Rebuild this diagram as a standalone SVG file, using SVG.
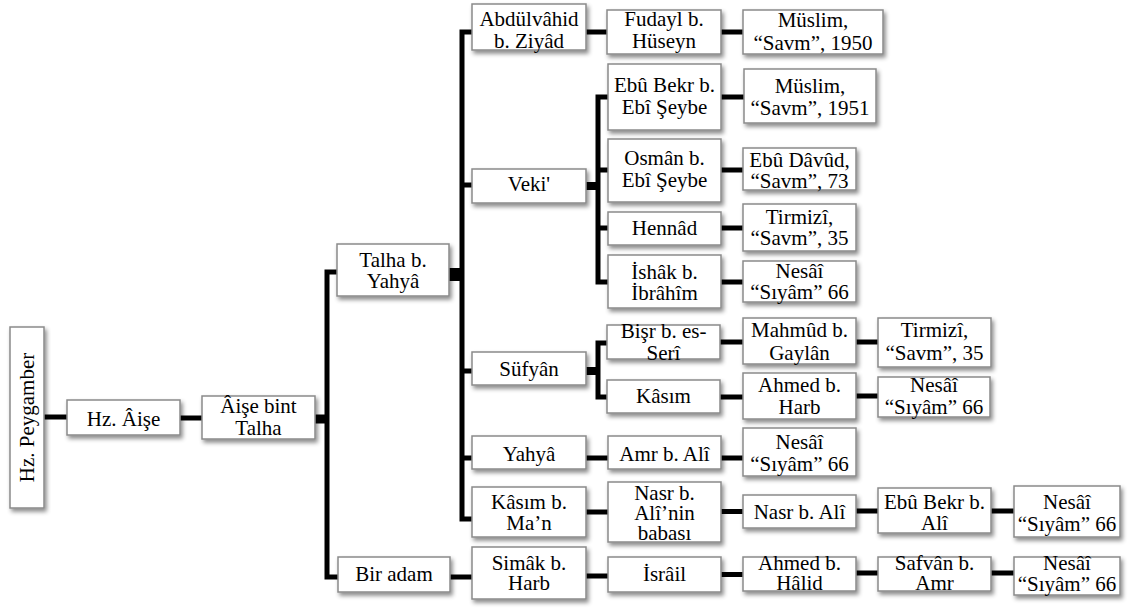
<svg xmlns="http://www.w3.org/2000/svg" width="1131" height="608" viewBox="0 0 1131 608">
  <defs>
    <filter id="shadow" x="-20%" y="-20%" width="140%" height="150%">
      <feDropShadow dx="2" dy="3" stdDeviation="2" flood-color="#000" flood-opacity="0.45"/>
    </filter>
    <style>
      .box { fill: #fff; stroke: #8a8a8a; stroke-width: 1.5; filter: url(#shadow); }
      .lbl { fill: #000; text-anchor: middle; }
      .ln { fill: none; stroke: #000; stroke-width: 5; stroke-linejoin: miter; }
      .stub { fill: none; stroke: #000; stroke-width: 9; }
    </style>
  </defs>
  <rect width="1131" height="608" fill="#fff"/>

  <!-- connectors -->
  <g id="connectors">
    <path class="ln" d="M44 417H67"/>
    <path class="ln" d="M180 418H202"/>
    <path class="stub" d="M315 419H327"/>
    <path class="ln" d="M338 272H327V577H338"/>
    <path class="stub" d="M449 274.5H462" style="stroke-width:13"/>
    <path class="ln" d="M472 32H462V519H472"/>
    <path class="ln" d="M462 185H472M462 371H472M462 458H472"/>
    <path class="ln" d="M586 32H607M721 32H743"/>
    <path class="stub" d="M586 186H598" style="stroke-width:8"/>
    <path class="ln" d="M608 97H598V282H608"/>
    <path class="ln" d="M598 170H608M598 228H608"/>
    <path class="ln" d="M721 97H744M721 170H743M721 228H743M721 282H743"/>
    <path class="stub" d="M586 371H598" style="stroke-width:8"/>
    <path class="ln" d="M607 343H598V397H607"/>
    <path class="ln" d="M720 342H743M856 342H878"/>
    <path class="ln" d="M720 397H743M856 396H878"/>
    <path class="ln" d="M586 458H608M721 458H743"/>
    <path class="ln" d="M586 512H608M721 511.5H743M856 511H878M991 511H1014"/>
    <path class="ln" d="M450 577H472M586 576H608M721 574.5H743M856 573H878M991 573H1014"/>
  </g>

  <g id="nodes" font-family="'Liberation Serif', Tinos, 'Times New Roman', 'DejaVu Serif', serif" font-size="21">
  <g id="peygamber">
    <rect class="box" x="10" y="327" width="34" height="181"/>
    <text class="lbl" transform="translate(34 417.5) rotate(-90)">Hz. Peygamber</text>
  </g>
  <g id="aise">
    <rect class="box" x="67" y="400" width="113" height="35"/>
    <text class="lbl" x="123.5" y="425.5">Hz. Âişe</text>
  </g>
  <g id="aise-bint-talha">
    <rect class="box" x="202" y="396" width="113" height="43"/>
    <text class="lbl" x="258.5" y="413">Âişe bint</text>
    <text class="lbl" x="258.5" y="435">Talha</text>
  </g>
  <g id="talha-b-yahya">
    <rect class="box" x="337" y="244" width="112" height="52"/>
    <text class="lbl" x="393" y="266.5">Talha b.</text>
    <text class="lbl" x="393" y="288">Yahyâ</text>
  </g>
  <g id="abdulvahid">
    <rect class="box" x="472" y="4" width="114" height="46"/>
    <text class="lbl" x="529" y="26">Abdülvâhid</text>
    <text class="lbl" x="529" y="48">b. Ziyâd</text>
  </g>
  <g id="fudayl">
    <rect class="box" x="607" y="10" width="114" height="44"/>
    <text class="lbl" x="664" y="26">Fudayl b.</text>
    <text class="lbl" x="664" y="48">Hüseyn</text>
  </g>
  <g id="muslim-1950">
    <rect class="box" x="743" y="10" width="140" height="44"/>
    <text class="lbl" x="813" y="27">Müslim,</text>
    <text class="lbl" x="813" y="49.5">“Savm”, 1950</text>
  </g>
  <g id="veki">
    <rect class="box" x="472" y="169" width="114" height="34"/>
    <text class="lbl" x="529" y="190.5">Veki'</text>
  </g>
  <g id="ebubekr-seybe">
    <rect class="box" x="608" y="64" width="113" height="66"/>
    <text class="lbl" x="664.5" y="92">Ebû Bekr b.</text>
    <text class="lbl" x="664.5" y="114">Ebî Şeybe</text>
  </g>
  <g id="muslim-1951">
    <rect class="box" x="744" y="69" width="132" height="54"/>
    <text class="lbl" x="810" y="93">Müslim,</text>
    <text class="lbl" x="810" y="115">“Savm”, 1951</text>
  </g>
  <g id="osman">
    <rect class="box" x="608" y="139" width="113" height="63"/>
    <text class="lbl" x="664.5" y="165">Osmân b.</text>
    <text class="lbl" x="664.5" y="187">Ebî Şeybe</text>
  </g>
  <g id="ebu-davud">
    <rect class="box" x="743" y="148" width="113" height="42"/>
    <text class="lbl" x="799.5" y="166.5">Ebû Dâvûd,</text>
    <text class="lbl" x="799.5" y="187.5">“Savm”, 73</text>
  </g>
  <g id="hennad">
    <rect class="box" x="608" y="212" width="113" height="33"/>
    <text class="lbl" x="664.5" y="235">Hennâd</text>
  </g>
  <g id="tirmizi-1">
    <rect class="box" x="743" y="204" width="113" height="47"/>
    <text class="lbl" x="799.5" y="224">Tirmizî,</text>
    <text class="lbl" x="799.5" y="245">“Savm”, 35</text>
  </g>
  <g id="ishak">
    <rect class="box" x="608" y="255" width="113" height="53"/>
    <text class="lbl" x="664.5" y="278.5">İshâk b.</text>
    <text class="lbl" x="664.5" y="299.5">İbrâhîm</text>
  </g>
  <g id="nesai-1">
    <rect class="box" x="743" y="261" width="113" height="41"/>
    <text class="lbl" x="799.5" y="277.5">Nesâî</text>
    <text class="lbl" x="799.5" y="298.5">“Sıyâm” 66</text>
  </g>
  <g id="sufyan">
    <rect class="box" x="472" y="352" width="114" height="33"/>
    <text class="lbl" x="529" y="376">Süfyân</text>
  </g>
  <g id="bisr">
    <rect class="box" x="607" y="325" width="113" height="34"/>
    <text class="lbl" x="663.5" y="338">Bişr b. es-</text>
    <text class="lbl" x="663.5" y="359.5">Serî</text>
  </g>
  <g id="kasim">
    <rect class="box" x="607" y="380" width="113" height="33"/>
    <text class="lbl" x="663.5" y="403">Kâsım</text>
  </g>
  <g id="mahmud">
    <rect class="box" x="743" y="318" width="113" height="46"/>
    <text class="lbl" x="799.5" y="337">Mahmûd b.</text>
    <text class="lbl" x="799.5" y="359.5">Gaylân</text>
  </g>
  <g id="tirmizi-2">
    <rect class="box" x="878" y="318" width="113" height="49"/>
    <text class="lbl" x="934.5" y="337">Tirmizî,</text>
    <text class="lbl" x="934.5" y="360">“Savm”, 35</text>
  </g>
  <g id="ahmed-harb">
    <rect class="box" x="743" y="373" width="113" height="46"/>
    <text class="lbl" x="799.5" y="392">Ahmed b.</text>
    <text class="lbl" x="799.5" y="414">Harb</text>
  </g>
  <g id="nesai-2">
    <rect class="box" x="878" y="377" width="112" height="40"/>
    <text class="lbl" x="934" y="392">Nesâî</text>
    <text class="lbl" x="934" y="414">“Sıyâm” 66</text>
  </g>
  <g id="yahya">
    <rect class="box" x="472" y="436" width="114" height="33"/>
    <text class="lbl" x="529" y="460.5">Yahyâ</text>
  </g>
  <g id="amr">
    <rect class="box" x="608" y="436" width="113" height="33"/>
    <text class="lbl" x="664.5" y="460.5">Amr b. Alî</text>
  </g>
  <g id="nesai-3">
    <rect class="box" x="743" y="428" width="113" height="48"/>
    <text class="lbl" x="799.5" y="449">Nesâî</text>
    <text class="lbl" x="799.5" y="470.5">“Sıyâm” 66</text>
  </g>
  <g id="kasim-man">
    <rect class="box" x="472" y="487" width="114" height="50"/>
    <text class="lbl" x="529" y="508.5">Kâsım b.</text>
    <text class="lbl" x="529" y="530">Ma’n</text>
  </g>
  <g id="nasr-babasi">
    <rect class="box" x="608" y="482" width="113" height="60"/>
    <text class="lbl" x="664.5" y="500">Nasr b.</text>
    <text class="lbl" x="664.5" y="519.5">Alî’nin</text>
    <text class="lbl" x="664.5" y="539.5">babası</text>
  </g>
  <g id="nasr-ali">
    <rect class="box" x="743" y="495" width="113" height="33"/>
    <text class="lbl" x="799.5" y="519">Nasr b. Alî</text>
  </g>
  <g id="ebubekr-ali">
    <rect class="box" x="878" y="488" width="113" height="45"/>
    <text class="lbl" x="934.5" y="508.5">Ebû Bekr b.</text>
    <text class="lbl" x="934.5" y="530">Alî</text>
  </g>
  <g id="nesai-4">
    <rect class="box" x="1014" y="486" width="106" height="51"/>
    <text class="lbl" x="1067" y="508.5">Nesâî</text>
    <text class="lbl" x="1067" y="530.5">“Sıyâm” 66</text>
  </g>
  <g id="bir-adam">
    <rect class="box" x="338" y="557" width="112" height="35"/>
    <text class="lbl" x="394" y="581">Bir adam</text>
  </g>
  <g id="simak">
    <rect class="box" x="472" y="547" width="114" height="52"/>
    <text class="lbl" x="529" y="569.5">Simâk b.</text>
    <text class="lbl" x="529" y="590">Harb</text>
  </g>
  <g id="israil">
    <rect class="box" x="608" y="557" width="113" height="35"/>
    <text class="lbl" x="664.5" y="580.5">İsrâil</text>
  </g>
  <g id="ahmed-halid">
    <rect class="box" x="743" y="557" width="113" height="34"/>
    <text class="lbl" x="799.5" y="569.5">Ahmed b.</text>
    <text class="lbl" x="799.5" y="590">Hâlid</text>
  </g>
  <g id="safvan">
    <rect class="box" x="878" y="557" width="113" height="34"/>
    <text class="lbl" x="934.5" y="569.5">Safvân b.</text>
    <text class="lbl" x="934.5" y="590">Amr</text>
  </g>
  <g id="nesai-5">
    <rect class="box" x="1014" y="557" width="106" height="38"/>
    <text class="lbl" x="1067" y="569.5">Nesâî</text>
    <text class="lbl" x="1067" y="590.5">“Sıyâm” 66</text>
  </g>
  </g>
</svg>
